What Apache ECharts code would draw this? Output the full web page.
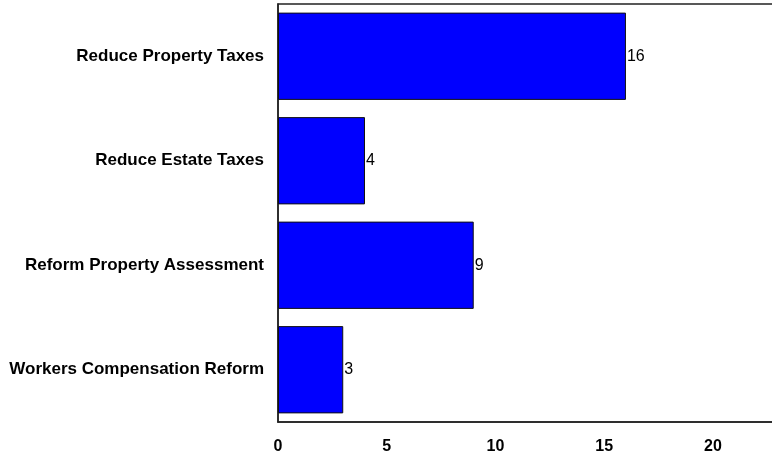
<!DOCTYPE html>
<html><head><meta charset="utf-8">
<script src="https://cdn.jsdelivr.net/npm/echarts@6/dist/echarts.min.js"></script>
<style>html,body{margin:0;padding:0;background:#fff}#c{width:772px;height:458px}</style>
</head><body><div id="c"></div>
<script>
const categories = ["Reduce Property Taxes","Reduce Estate Taxes","Reform Property Assessment","Workers Compensation Reform"];
const values = [16, 4, 9, 3];
const xTicks = [0, 5, 10, 15, 20];
const chart = echarts.init(document.getElementById('c'));
chart.setOption({
  animation: false,
  grid: {left: 278, top: 4, bottom: 36, right: -4, outerBoundsMode: 'none', containLabel: false,
    show: true, borderColor: '#222', borderWidth: 1.5, backgroundColor: 'transparent'},
  xAxis: {type: 'value', min: 0, max: 22.9, interval: 5,
    axisLine: {show: true, lineStyle: {color: '#222', width: 1.5}},
    axisTick: {show: false}, splitLine: {show: false},
    axisLabel: {margin: 17, color: '#000', fontWeight: 'bold', fontSize: 16, fontFamily: 'Liberation Sans, Arial',
      showMaxLabel: false,
      formatter: v => xTicks.includes(v) ? String(v) : ''}},
  yAxis: {type: 'category', data: categories, inverse: true,
    axisLine: {show: true, lineStyle: {color: '#222', width: 1.5}},
    axisTick: {show: false},
    axisLabel: {margin: 14, color: '#000', fontWeight: 'bold', fontSize: 17, fontFamily: 'Liberation Sans, Arial'}},
  series: [{type: 'bar', data: values, barCategoryGap: '16.5%',
    itemStyle: {color: '#0000FF', borderColor: '#111', borderWidth: 1},
    label: {show: true, position: 'right', distance: 1, color: '#000', fontSize: 16, fontFamily: 'Liberation Sans, Arial'}}]
});
</script></body></html>
